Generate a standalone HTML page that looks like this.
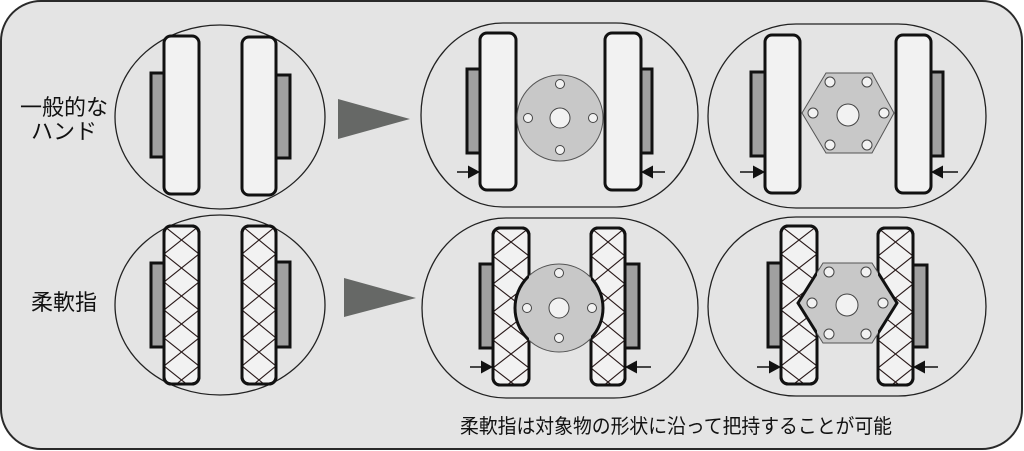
<!DOCTYPE html>
<html><head><meta charset="utf-8"><style>
html,body{margin:0;padding:0;background:#fff;}
svg{display:block;}
text{font-family:"Liberation Sans","Noto Sans CJK JP",sans-serif;fill:#111;}
</style></head><body>
<svg width="1024" height="451" viewBox="0 0 1024 451" xmlns="http://www.w3.org/2000/svg">
<defs>
<pattern id="h1" patternUnits="userSpaceOnUse" x="164" y="226" width="35" height="28"><path d="M0 0L35 28M35 0L0 28" stroke="#2a1a1a" stroke-width="1.1" fill="none"/></pattern>
<pattern id="h2" patternUnits="userSpaceOnUse" x="242" y="226" width="34" height="28"><path d="M0 0L34 28M34 0L0 28" stroke="#2a1a1a" stroke-width="1.1" fill="none"/></pattern>
<pattern id="h3" patternUnits="userSpaceOnUse" x="493" y="228" width="36" height="28"><path d="M0 0L36 28M36 0L0 28" stroke="#2a1a1a" stroke-width="1.1" fill="none"/></pattern>
<pattern id="h4" patternUnits="userSpaceOnUse" x="591" y="228" width="34" height="28"><path d="M0 0L34 28M34 0L0 28" stroke="#2a1a1a" stroke-width="1.1" fill="none"/></pattern>
<pattern id="h5" patternUnits="userSpaceOnUse" x="781" y="226" width="36" height="28"><path d="M0 0L36 28M36 0L0 28" stroke="#2a1a1a" stroke-width="1.1" fill="none"/></pattern>
<pattern id="h6" patternUnits="userSpaceOnUse" x="878" y="228" width="35" height="28"><path d="M0 0L35 28M35 0L0 28" stroke="#2a1a1a" stroke-width="1.1" fill="none"/></pattern>
<clipPath id="cf3"><rect x="493" y="228" width="36" height="157"/><rect x="591" y="228" width="34" height="157"/></clipPath>
<clipPath id="cf5"><rect x="781" y="226" width="36" height="158"/><rect x="878" y="228" width="35" height="157"/></clipPath>
</defs>

<!-- outer frame -->
<rect x="1" y="1" width="1021" height="448" rx="40" ry="40" fill="#e4e4e4" stroke="#2a2a2a" stroke-width="2"/>

<!-- labels -->
<text x="64" y="115" font-size="22" text-anchor="middle">一般的な</text>
<text x="64" y="139" font-size="22" text-anchor="middle">ハンド</text>
<text x="64" y="310" font-size="22" text-anchor="middle">柔軟指</text>
<text x="460" y="433" font-size="20" textLength="432" lengthAdjust="spacingAndGlyphs">柔軟指は対象物の形状に沿って把持することが可能</text>

<!-- big arrows -->
<polygon points="338,99 338,139 410,119" fill="#666866"/>
<polygon points="344,278 344,317 416,298" fill="#666866"/>

<g stroke="#222" stroke-width="1.3" fill="none">
<ellipse cx="220" cy="117" rx="105" ry="92"/>
<ellipse cx="220" cy="305" rx="105" ry="90"/>
<rect x="421" y="23" width="277" height="184" rx="82" ry="92"/>
<rect x="708" y="24" width="278" height="184" rx="88" ry="92"/>
<rect x="422" y="218" width="276" height="180" rx="84" ry="90"/>
<rect x="708" y="217" width="278" height="179" rx="88" ry="89.5"/>
</g>

<!-- ===== Top row ===== -->
<g stroke="#111" stroke-width="3">
<!-- panel 1 -->
<rect x="151" y="73" width="13" height="84" fill="#a0a0a0"/>
<rect x="276" y="75" width="14" height="83" fill="#a0a0a0"/>
<rect x="164" y="36" width="35" height="158" rx="7" fill="#f2f2f2"/>
<rect x="242" y="37" width="34" height="158" rx="7" fill="#f2f2f2"/>
<!-- panel 2 -->
<rect x="467" y="69" width="13" height="84" fill="#a0a0a0"/>
<rect x="641" y="69" width="11" height="84" fill="#a0a0a0"/>
<rect x="480" y="33" width="36" height="157" rx="7" fill="#f2f2f2"/>
<rect x="605" y="33" width="36" height="157" rx="7" fill="#f2f2f2"/>
<!-- panel 3 -->
<rect x="751" y="72" width="14" height="84" fill="#a0a0a0"/>
<rect x="931" y="72" width="12" height="84" fill="#a0a0a0"/>
<rect x="765" y="35" width="35" height="158" rx="7" fill="#f2f2f2"/>
<rect x="896" y="35" width="35" height="158" rx="7" fill="#f2f2f2"/>
</g>

<!-- disc top -->
<circle cx="560" cy="118" r="43" fill="#c8c8c8" stroke="#555" stroke-width="1"/>
<g fill="#f2f2f2" stroke="#444" stroke-width="1">
<circle cx="560" cy="118" r="10"/>
<circle cx="560" cy="84" r="4.5"/>
<circle cx="560" cy="150" r="4.5"/>
<circle cx="528" cy="118" r="4.5"/>
<circle cx="593" cy="118" r="4.5"/>
</g>
<!-- hexagon top -->
<polygon points="802,113 826,73 872,73 894,113 872,153 826,153" fill="#c8c8c8" stroke="#555" stroke-width="1"/>
<g fill="#f2f2f2" stroke="#444" stroke-width="1">
<circle cx="848" cy="115" r="11"/>
<circle cx="830" cy="82" r="5"/>
<circle cx="867" cy="82" r="5"/>
<circle cx="813" cy="113" r="5"/>
<circle cx="884" cy="113" r="5"/>
<circle cx="830" cy="145" r="5"/>
<circle cx="867" cy="145" r="5"/>
</g>

<!-- ===== Bottom row ===== -->
<g stroke="#111" stroke-width="3">
<!-- panel 4 -->
<rect x="151" y="263" width="13" height="84" fill="#a0a0a0"/>
<rect x="276" y="262" width="14" height="85" fill="#a0a0a0"/>
<rect x="164" y="226" width="35" height="158" rx="7" fill="#f2f2f2"/>
<rect x="164" y="226" width="35" height="158" rx="7" fill="url(#h1)"/>
<rect x="242" y="226" width="34" height="158" rx="7" fill="#f2f2f2"/>
<rect x="242" y="226" width="34" height="158" rx="7" fill="url(#h2)"/>
<!-- panel 5 -->
<rect x="480" y="264" width="13" height="84" fill="#a0a0a0"/>
<rect x="625" y="264" width="14" height="84" fill="#a0a0a0"/>
<rect x="493" y="228" width="36" height="157" rx="7" fill="#f2f2f2"/>
<rect x="493" y="228" width="36" height="157" rx="7" fill="url(#h3)"/>
<rect x="591" y="228" width="34" height="157" rx="7" fill="#f2f2f2"/>
<rect x="591" y="228" width="34" height="157" rx="7" fill="url(#h4)"/>
<!-- panel 6 -->
<rect x="768" y="263" width="13" height="84" fill="#a0a0a0"/>
<rect x="913" y="265" width="14" height="82" fill="#a0a0a0"/>
<rect x="781" y="226" width="36" height="158" rx="7" fill="#f2f2f2"/>
<rect x="781" y="226" width="36" height="158" rx="7" fill="url(#h5)"/>
<rect x="878" y="228" width="35" height="157" rx="7" fill="#f2f2f2"/>
<rect x="878" y="228" width="35" height="157" rx="7" fill="url(#h6)"/>
</g>

<!-- disc bottom -->
<circle cx="559" cy="308" r="44" fill="#c8c8c8" stroke="#555" stroke-width="1"/>
<circle cx="559" cy="308" r="44" fill="none" stroke="#111" stroke-width="3" clip-path="url(#cf3)"/>
<g fill="#f2f2f2" stroke="#444" stroke-width="1">
<circle cx="559" cy="308" r="10"/>
<circle cx="559" cy="273" r="4.5"/>
<circle cx="559" cy="338" r="4.5"/>
<circle cx="527" cy="308" r="4.5"/>
<circle cx="592" cy="308" r="4.5"/>
</g>
<!-- hexagon bottom -->
<polygon points="798,303 823,263 872,263 897,303 872,343 823,343" fill="#c8c8c8" stroke="#555" stroke-width="1"/>
<polygon points="798,303 823,263 872,263 897,303 872,343 823,343" fill="none" stroke="#111" stroke-width="3" clip-path="url(#cf5)"/>
<g fill="#f2f2f2" stroke="#444" stroke-width="1">
<circle cx="847" cy="305" r="11"/>
<circle cx="829" cy="272" r="5"/>
<circle cx="866" cy="272" r="5"/>
<circle cx="812" cy="303" r="5"/>
<circle cx="883" cy="303" r="5"/>
<circle cx="829" cy="334" r="5"/>
<circle cx="866" cy="334" r="5"/>
</g>

<!-- small push arrows -->
<g stroke="#111" stroke-width="1.5">
<line x1="457" y1="172" x2="470" y2="172"/>
<line x1="653" y1="172" x2="665" y2="172"/>
<line x1="740" y1="172" x2="755" y2="172"/>
<line x1="941" y1="172" x2="958" y2="172"/>
<line x1="470" y1="367" x2="483" y2="367"/>
<line x1="635" y1="367" x2="651" y2="367"/>
<line x1="757" y1="367" x2="771" y2="367"/>
<line x1="923" y1="367" x2="938" y2="367"/>
</g>
<g fill="#111">
<polygon points="468,165.5 468,178.5 480,172"/>
<polygon points="653,165.5 653,178.5 641,172"/>
<polygon points="753,165.5 753,178.5 765,172"/>
<polygon points="943,165.5 943,178.5 931,172"/>
<polygon points="481,360.5 481,373.5 493,367"/>
<polygon points="637,360.5 637,373.5 625,367"/>
<polygon points="769,360.5 769,373.5 781,367"/>
<polygon points="925,360.5 925,373.5 913,367"/>
</g>
</svg>
</body></html>
